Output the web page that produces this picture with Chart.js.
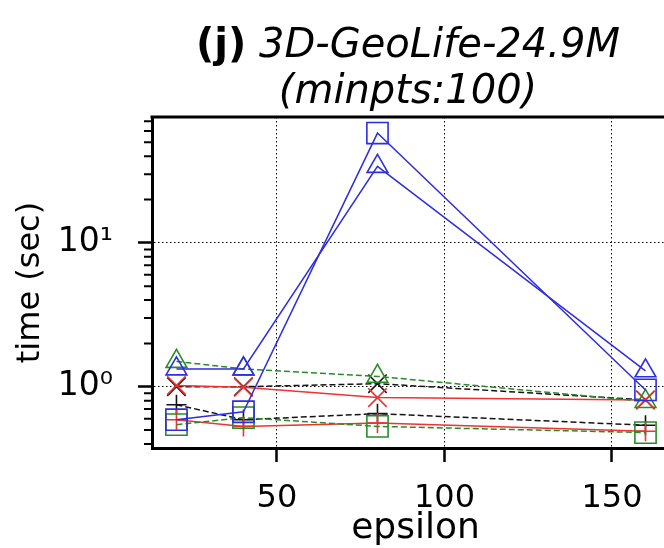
<!DOCTYPE html>
<html>
<head>
<meta charset="utf-8">
<script src="https://cdn.jsdelivr.net/npm/chart.js@4"></script>
<style>
  html, body { margin: 0; padding: 0; background: #fff; overflow: hidden; }
  #wrap { position: relative; width: 664px; height: 548px; overflow: hidden; }
  #grafico { position: absolute; left: 0; top: 0; }
  #titulo {
    position: absolute; top: 20px; left: 408px; transform: translateX(-50%);
    white-space: nowrap; text-align: center; color: #000;
    font-family: "DejaVu Sans", sans-serif; font-size: 40px; line-height: 46px;
  }
  #titulo b { font-weight: bold; }
  #titulo i { font-style: italic; }
</style>
</head>
<body>
<div id="wrap">
  <canvas id="grafico" width="700" height="548"></canvas>
  <div id="titulo"><b>(j)</b> <i>3D-GeoLife-24.9M</i><br><i>(minpts:100)</i></div>
</div>
<script>
// epsilon values on the x axis
const epsilon = [20, 40, 80, 160];

// run time in seconds, one array per method
const blueSquare    = [0.59, 0.67, 58, 0.95];
const blueTriangle  = [1.33, 1.33, 34, 1.29];
const greenTriangle = [1.5, 1.33, 1.18, 0.79];
const greenSquare   = [0.545, 0.61, 0.53, 0.48];
const redCross      = [1.02, 0.99, 0.84, 0.81];
const redPlus       = [0.59, 0.53, 0.56, 0.49];
const blackCross    = [1.0, 1.0, 1.05, 0.81];
const blackPlus     = [0.75, 0.59, 0.65, 0.54];

// axis ticks
const xTicks = [50, 100, 150];
const yTicks = [1, 10];
const yTickLabels = ["10\u2070", "10\u00b9"];
const yMinorTicks = [0.4, 0.5, 0.6, 0.7, 0.8, 0.9, 2, 3, 4, 5, 6, 7, 8, 9, 20, 30, 40, 50, 60, 70];

const BLUE = "rgb(45,45,225)";
const GREEN = "rgb(40,140,40)";
const RED = "rgb(240,50,50)";
const BLACK = "rgb(20,20,20)";

function serie(valores, color, punto, radio, discontinua) {
    return {
        data: epsilon.map((x, i) => ({ x: x, y: valores[i] })),
        borderColor: color,
        borderWidth: 1.5,
        borderDash: discontinua ? [6, 3] : [],
        pointStyle: punto,
        pointRadius: radio,
        pointHoverRadius: radio,
        pointBorderColor: color,
        pointBackgroundColor: "rgba(0,0,0,0)",
        pointBorderWidth: 1.6,
        tension: 0,
        fill: false
    };
}

// minor ticks on the log axis and the top frame line
const marco = {
    id: "marco",
    afterDraw(chart) {
        const ctx = chart.ctx;
        const y = chart.scales.y;
        const area = chart.chartArea;
        ctx.save();
        ctx.strokeStyle = "#000";
        ctx.lineWidth = 2;
        ctx.beginPath();
        yMinorTicks.forEach(v => {
            const p = y.getPixelForValue(v);
            ctx.moveTo(area.left - 8, p);
            ctx.lineTo(area.left, p);
        });
        ctx.stroke();
        ctx.lineWidth = 3;
        ctx.beginPath();
        ctx.moveTo(area.left - 1.5, area.top);
        ctx.lineTo(area.right, area.top);
        ctx.stroke();
        ctx.restore();
    }
};

function dibujarGrafico() {
    new Chart(document.getElementById("grafico"), {
        type: "line",
        data: {
            datasets: [
                serie(blueSquare, BLUE, "rect", 15, false),
                serie(blueTriangle, BLUE, "triangle", 12, false),
                serie(greenTriangle, GREEN, "triangle", 12, true),
                serie(greenSquare, GREEN, "rect", 15, true),
                serie(redCross, RED, "crossRot", 13, false),
                serie(redPlus, RED, "cross", 10, false),
                serie(blackCross, BLACK, "crossRot", 13, true),
                serie(blackPlus, BLACK, "cross", 10, true)
            ]
        },
        options: {
            responsive: false,
            animation: false,
            devicePixelRatio: 1,
            layout: { padding: { top: 117, left: 0, right: 21, bottom: 0 } },
            plugins: {
                legend: { display: false },
                tooltip: { enabled: false }
            },
            scales: {
                x: {
                    type: "linear",
                    min: 12.7,
                    max: 170,
                    afterBuildTicks: s => { s.ticks = xTicks.map(v => ({ value: v })); },
                    afterFit: s => { s.height = 100; },
                    ticks: {
                        color: "#000",
                        padding: 17,
                        font: { family: "DejaVu Sans", size: 32 }
                    },
                    grid: {
                        color: "#000",
                        lineWidth: 1,
                        tickLength: 14,
                        tickWidth: 2.5,
                        tickColor: "#000"
                    },
                    border: { color: "#000", width: 3, dash: [1.5, 2.5] },
                    title: {
                        display: true,
                        text: "epsilon",
                        color: "#000",
                        padding: { top: 0, bottom: -2 },
                        font: { family: "DejaVu Sans", size: 36 }
                    }
                },
                y: {
                    type: "logarithmic",
                    min: 0.375,
                    max: 75,
                    afterBuildTicks: s => { s.ticks = yTicks.map(v => ({ value: v })); },
                    afterFit: s => { s.width = 152; },
                    ticks: {
                        color: "#000",
                        padding: 25,
                        font: { family: "DejaVu Sans", size: 33 },
                        callback: v => yTickLabels[yTicks.indexOf(v)]
                    },
                    grid: {
                        color: "#000",
                        lineWidth: 1,
                        tickLength: 14,
                        tickWidth: 2.5,
                        tickColor: "#000"
                    },
                    border: { color: "#000", width: 3, dash: [1.5, 2.5] },
                    title: {
                        display: true,
                        text: "time (sec)",
                        color: "#000",
                        padding: { top: 11, bottom: 0 },
                        font: { family: "DejaVu Sans", size: 32 }
                    }
                }
            }
        },
        plugins: [marco]
    });
}

document.addEventListener("DOMContentLoaded", dibujarGrafico);
</script>
</body>
</html>
